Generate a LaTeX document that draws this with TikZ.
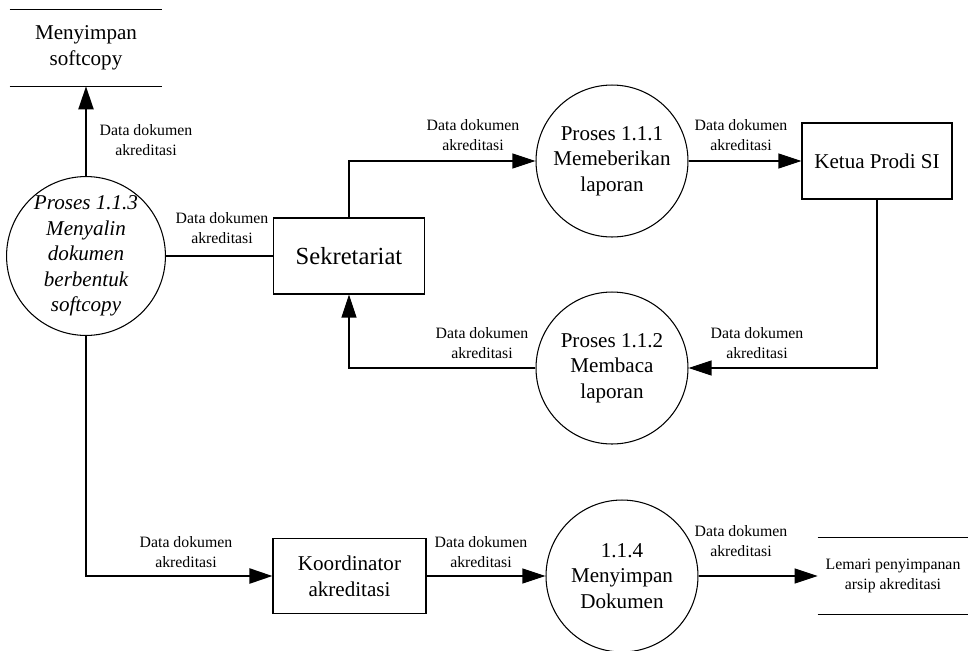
\documentclass[tikz,border=0pt]{standalone}
\usepackage{fontspec}
\setmainfont{Liberation Serif}
\usetikzlibrary{arrows.meta}

\tikzset{
    proc/.style={draw, circle, line width=0.6pt, minimum size=3.04cm, inner sep=0pt, align=center,
        font=\fontsize{12}{14.6}\selectfont},
    entity/.style={draw, rectangle, line width=0.6pt, minimum width=3.02cm, minimum height=1.52cm, align=center,
        font=\fontsize{12}{14.6}\selectfont},
    store/.style={rectangle, minimum width=3.04cm, minimum height=1.52cm, inner sep=0pt, align=center},
    lbl/.style={align=center, inner sep=0pt, font=\fontsize{9}{11}\selectfont},
    flow/.style={->, line width=0.6pt},
    thickflow/.style={line width=1.2pt}
}

\begin{document}
\begin{tikzpicture}[x=0.02cm, y=-0.02cm, >={Triangle[length=0.46cm, width=0.3cm]}]
    \useasboundingbox (0,0) rectangle (968,650);

    % Nodes
    \node[store, font=\fontsize{12}{14.6}\selectfont] at (86, 48) (sc) {Menyimpan\\softcopy};
    \node[proc, font=\itshape\fontsize{12}{14.5}\selectfont] at (86, 256) (p3) {Proses 1.1.3\\Menyalin\\dokumen\\berbentuk\\softcopy};
    \node[entity, font=\fontsize{14}{16}\selectfont] at (349, 256) (sek) {Sekretariat};
    \node[proc] at (612, 161) (p1) {Proses 1.1.1\\Memeberikan\\laporan};
    \node[entity, minimum width=3cm] at (877, 161) (ketua) {Ketua Prodi SI};
    \node[proc] at (612, 368) (p2) {Proses 1.1.2\\Membaca\\laporan};
    \node[entity, minimum width=3.06cm, minimum height=1.5cm] at (349.5, 576) (koor) {Koordinator\\akreditasi};
    \node[proc] at (622, 576) (p4) {1.1.4\\Menyimpan\\Dokumen};
    \node[store, minimum width=3cm, font=\fontsize{9}{11}\selectfont] at (893, 576) (lemari) {Lemari penyimpanan\\arsip akreditasi};

    % Data store lines
    \draw[line width=0.6pt] (sc.north west) -- (sc.north east);
    \draw[line width=0.6pt] (sc.south west) -- (sc.south east);
    \draw[line width=0.6pt] (lemari.north west) -- (lemari.north east);
    \draw[line width=0.6pt] (lemari.south west) -- (lemari.south east);

    % Labels
    \node[lbl] at (146, 140) (l1) {Data dokumen\\akreditasi};
    \node[lbl] at (222, 228) (l2) {Data dokumen\\akreditasi};
    \node[lbl] at (473, 135) (l3) {Data dokumen\\akreditasi};
    \node[lbl] at (741, 135) (l4) {Data dokumen\\akreditasi};
    \node[lbl] at (757, 343) (l5) {Data dokumen\\akreditasi};
    \node[lbl] at (482, 343) (l6) {Data dokumen\\akreditasi};
    \node[lbl] at (186, 552) (l7) {Data dokumen\\akreditasi};
    \node[lbl] at (481, 552) (l8) {Data dokumen\\akreditasi};
    \node[lbl] at (741, 541) (l9) {Data dokumen\\akreditasi};

    % Edges
    \draw[thickflow, ->] (p3.north) -- (sc.south);
    \draw[thickflow] (p3.east) -- (sek.west);
    \draw[thickflow, ->] (p3.south) |- (koor.west);

    \draw[flow] (sek.north) |- (p1.west);
    \draw[flow] (p1.east) -- (ketua.west);
    \draw[flow] (ketua.south) |- (p2.east);
    \draw[flow] (p2.west) -| (sek.south);

    \draw[flow] (koor.east) -- (p4.west);
    \draw[flow] (p4.east) -- (lemari.west);
\end{tikzpicture}
\end{document}
